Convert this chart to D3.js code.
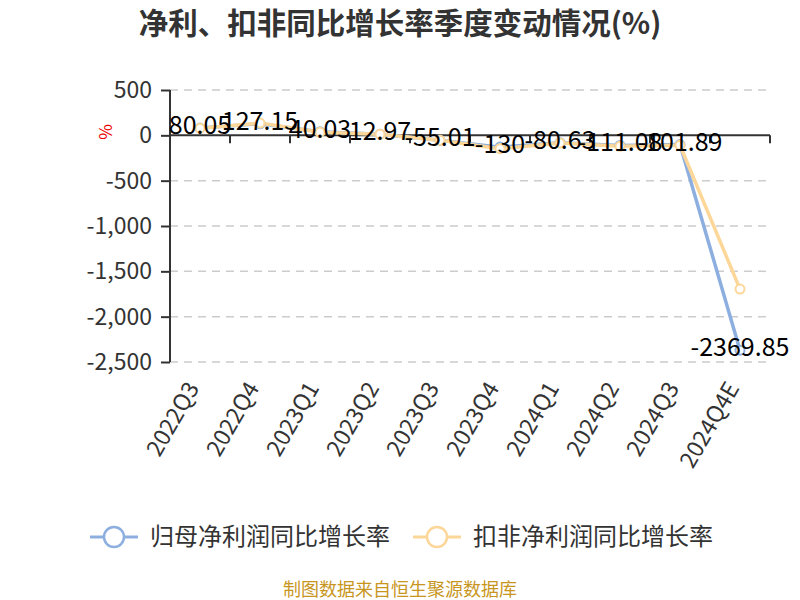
<!DOCTYPE html>
<html><head><meta charset="utf-8">
<script src="https://cdn.jsdelivr.net/npm/d3@7"></script>
<style>body{margin:0;background:#fff}svg{display:block}text{font-family:"Noto Sans CJK SC","Open Sans",sans-serif}</style>
</head><body><svg id="c" width="800" height="600"></svg>
<script>
const categories = ["2022Q3","2022Q4","2023Q1","2023Q2","2023Q3","2023Q4","2024Q1","2024Q2","2024Q3","2024Q4E"];
const netProfit = [80.05,127.15,40.03,12.97,-55.01,-130,-80.63,-111.08,-101.89,-2369.85];
const deductedProfit = [77,135,33,11,-55,-147,-85,-121,-110,-1696];
const yTicks = [500,0,-500,-1000,-1500,-2000,-2500];
const seriesNames = ["归母净利润同比增长率","扣非净利润同比增长率"];
const colors = ["#8dafe0","#fdd799"];

const svg = d3.select("#c");
const x = d3.scaleBand().domain(categories).range([170,770]);
const y = d3.scaleLinear().domain([-2500,500]).range([362,90]);
const fmt = d3.formatLocale({decimal:".",thousands:",",grouping:[3],currency:["",""],minus:"-"}).format(",");

svg.append("text").attr("x",400).attr("y",34).attr("text-anchor","middle")
  .attr("font-size",29.5).attr("font-weight","bold").attr("fill","#333")
  .text("净利、扣非同比增长率季度变动情况(%)");

// grid
svg.append("g").selectAll("line").data(yTicks.filter(d=>d!==0)).join("line")
  .attr("x1",170).attr("x2",770).attr("y1",d=>y(d)).attr("y2",d=>y(d))
  .attr("stroke","#ccc").attr("stroke-width",1.5).attr("stroke-dasharray","8,6");

// y axis
const ya = svg.append("g").attr("transform","translate(170,0)")
  .call(d3.axisLeft(y).tickValues(yTicks).tickFormat(fmt).tickSize(9).tickPadding(9));
ya.select(".domain").attr("stroke","#333").attr("stroke-width",2).attr("d","M0,"+y(500)+"V"+y(-2500));
ya.selectAll(".tick line").attr("stroke","#333").attr("stroke-width",2);
ya.selectAll(".tick text").attr("font-size",23).attr("fill","#333").attr("font-family","'Noto Sans CJK SC','Open Sans',sans-serif");

// x axis at zero
const xa = svg.append("g").attr("transform","translate(0,"+y(0)+")")
  .call(d3.axisBottom(x).tickSize(0).tickFormat(""));
xa.select(".domain").attr("stroke","#333").attr("stroke-width",2).attr("d","M170,0H770");
xa.selectAll(".tk").data(categories).join("line")
  .attr("x1",d=>x(d)+x.bandwidth()).attr("x2",d=>x(d)+x.bandwidth())
  .attr("y1",0).attr("y2",8).attr("stroke","#333").attr("stroke-width",2);

// x labels rotated at bottom
svg.append("g").selectAll("text").data(categories).join("text")
  .attr("transform",d=>"translate("+(x(d)+x.bandwidth()/2)+",388) rotate(-60)")
  .attr("text-anchor","end").attr("font-size",23).attr("fill","#333").text(d=>d);

// y axis name
svg.append("text").attr("transform","translate(106,132) rotate(-90)").attr("text-anchor","middle")
  .attr("dy","0.35em").attr("font-size",17).attr("fill","#e00").text("%");

const cx = d => x(d)+x.bandwidth()/2;
const line = d3.line().x((d,i)=>cx(categories[i])).y(d=>y(d));
[netProfit,deductedProfit].forEach((s,k)=>{
  svg.append("path").datum(s).attr("d",line).attr("fill","none").attr("stroke",colors[k]).attr("stroke-width",3.5);
});
[netProfit,deductedProfit].forEach((s,k)=>{
  svg.append("g").selectAll("circle").data(s).join("circle")
    .attr("cx",(d,i)=>cx(categories[i])).attr("cy",d=>y(d)).attr("r",4.5)
    .attr("fill","#fff").attr("stroke",colors[k]).attr("stroke-width",2);
});
// labels
svg.append("g").selectAll("text").data(netProfit).join("text")
  .attr("x",(d,i)=>cx(categories[i])).attr("y",d=>y(d)+6)
  .attr("text-anchor","middle").attr("font-size",25).attr("fill","#000")
  .text(d=>String(d));

// legend
const lg = svg.append("g");
const lx = [90,413];
seriesNames.forEach((n,k)=>{
  const g = lg.append("g").attr("transform","translate("+lx[k]+",537)");
  g.append("line").attr("x1",0).attr("x2",48).attr("stroke",colors[k]).attr("stroke-width",3);
  g.append("circle").attr("cx",24).attr("r",10).attr("fill","#fff").attr("stroke",colors[k]).attr("stroke-width",2.5);
  g.append("text").attr("x",60).attr("dy","0.35em").attr("font-size",24).attr("fill","#333").text(n);
});

svg.append("text").attr("x",400).attr("y",596).attr("text-anchor","middle")
  .attr("font-size",18).attr("fill","#c8961e").text("制图数据来自恒生聚源数据库");
</script></body></html>
